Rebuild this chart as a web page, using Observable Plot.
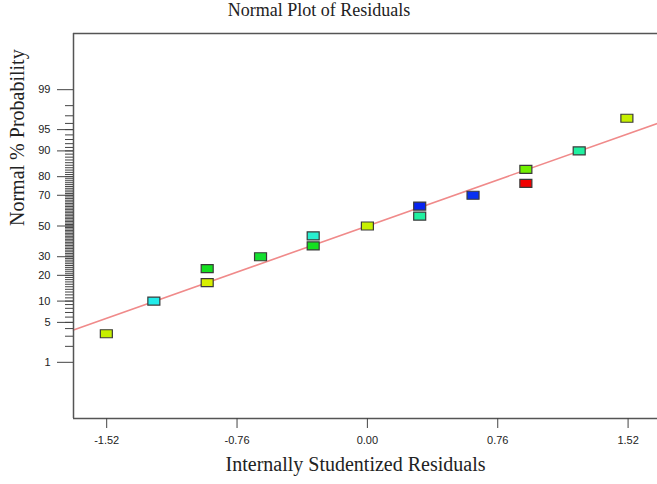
<!DOCTYPE html>
<html><head><meta charset="utf-8">
<script src="https://cdn.jsdelivr.net/npm/d3@7"></script>
<script src="https://cdn.jsdelivr.net/npm/@observablehq/plot@0.6"></script>
<style>
body{margin:0;background:#fff;}
#title{width:638px;height:30px;line-height:30px;text-align:center;font:18px "Liberation Serif","Times New Roman",serif;color:#222;}
</style></head><body>
<div id="title">Normal Plot of Residuals</div>
<div id="chart"></div>
<script>
// Data
const residuals = [-1.522, -1.245, -0.934, -0.934, -0.623, -0.316, -0.316, 0.0, 0.305, 0.305, 0.616, 0.924, 0.924, 1.235, 1.513];
const probabilities = [3.3, 10, 16.7, 23.3, 30, 36.7, 43.3, 50, 56.7, 63.3, 70, 76.7, 83.3, 90, 96.7];
const pointColors = ["#c6f000", "#22ecea", "#d8f000", "#14e020", "#14e030", "#14e020", "#28f0d0", "#c6f000", "#20f0a0", "#0824f0", "#0830f0", "#f00000", "#70f000", "#20f0a0", "#c6f000"];
const xTicks = [-1.52, -0.76, 0.00, 0.76, 1.52];
const yTickLabels = [1, 5, 10, 20, 30, 50, 70, 80, 90, 95, 99];
const yMinorTicks = d3.range(2, 99);
const lineX = [-1.7135, 1.6915];
const lineP = [3.81, 96.0];
const xDomain = [-1.7135, 1.6915];
const zDomain = [-3.285, 3.285];

function probit(p){
  const a=[-3.969683028665376e+01,2.209460984245205e+02,-2.759285104469687e+02,1.383577518672690e+02,-3.066479806614716e+01,2.506628277459239e+00];
  const b=[-5.447609879822406e+01,1.615858368580409e+02,-1.556989798598866e+02,6.680131188771972e+01,-1.328068155288572e+01];
  const c=[-7.784894002430293e-03,-3.223964580411365e-01,-2.400758277161838e+00,-2.549732539343734e+00,4.374664141464968e+00,2.938163982698783e+00];
  const d=[7.784695709041462e-03,3.224671290700398e-01,2.445134137142996e+00,3.754408661907416e+00];
  const pl=0.02425, ph=1-pl; let q, r;
  if (p < pl) { q=Math.sqrt(-2*Math.log(p)); return (((((c[0]*q+c[1])*q+c[2])*q+c[3])*q+c[4])*q+c[5])/((((d[0]*q+d[1])*q+d[2])*q+d[3])*q+1); }
  if (p <= ph) { q=p-0.5; r=q*q; return (((((a[0]*r+a[1])*r+a[2])*r+a[3])*r+a[4])*r+a[5])*q/(((((b[0]*r+b[1])*r+b[2])*r+b[3])*r+b[4])*r+1); }
  q=Math.sqrt(-2*Math.log(1-p)); return -(((((c[0]*q+c[1])*q+c[2])*q+c[3])*q+c[4])*q+c[5])/((((d[0]*q+d[1])*q+d[2])*q+d[3])*q+1);
}

const pts = residuals.map((x, i) => ({x, z: probit(probabilities[i] / 100), color: pointColors[i]}));
const fit = lineX.map((x, i) => ({x, z: probit(lineP[i] / 100)}));
const majorZ = yTickLabels.map(p => probit(p / 100));
const minorZ = yMinorTicks.map(p => probit(p / 100));
const labelOf = new Map(majorZ.map((z, i) => [z, String(yTickLabels[i])]));
const rectSymbol = {draw(ctx){ ctx.moveTo(-6,-4); ctx.lineTo(6,-4); ctx.lineTo(6,4); ctx.lineTo(-6,4); ctx.closePath(); }};
const serif = '"Liberation Serif","Times New Roman",serif';

const chart = Plot.plot({
  width: 657, height: 454,
  marginTop: 3, marginBottom: 66, marginLeft: 73, marginRight: 0,
  style: {fontFamily: '"Liberation Sans", Arial, sans-serif', fontSize: "11px", color: "#222", background: "#fff", overflow: "visible"},
  x: {domain: xDomain},
  y: {domain: zDomain},
  marks: [
    Plot.line(fit, {x: "x", y: "z", stroke: "#f08a8a", strokeWidth: 1.6}),
    Plot.dot(pts, {x: "x", y: "z", fill: "color", stroke: "#3a3a3a", strokeWidth: 1.2, symbol: rectSymbol, r: 5}),
    Plot.ruleY([zDomain[1]], {stroke: "#555", strokeWidth: 1.5}),
    Plot.ruleY([zDomain[0]], {stroke: "#555", strokeWidth: 1.5}),
    Plot.ruleX([xDomain[0]], {stroke: "#555", strokeWidth: 1.5}),
    Plot.axisY(minorZ, {tickSize: 8, tickFormat: () => "", stroke: "#444", label: null}),
    Plot.axisY(majorZ, {tickSize: 16, tickPadding: 7, tickFormat: z => labelOf.get(z), stroke: "#444", label: null}),
    Plot.axisX(xTicks, {tickSize: 10, tickPadding: 8, tickFormat: d => d.toFixed(2), stroke: "#444", label: null}),
    Plot.text(["Normal % Probability"], {frameAnchor: "left", rotate: -90, dx: -56, fontSize: 20, fontFamily: serif, fill: "#222"}),
    Plot.text(["Internally Studentized Residuals"], {frameAnchor: "bottom", dx: -10, dy: 52, fontSize: 20, fontFamily: serif, fill: "#222"})
  ]
});
document.getElementById("chart").appendChild(chart);
</script>
</body></html>
